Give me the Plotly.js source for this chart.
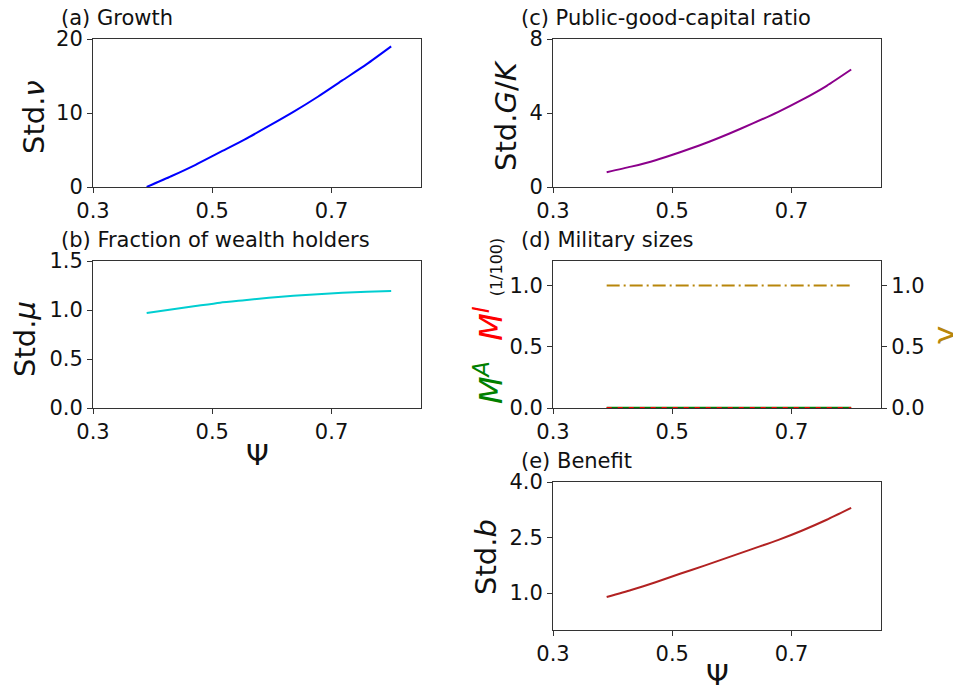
<!DOCTYPE html>
<html>
<head>
<meta charset="utf-8">
<script src="https://cdn.plot.ly/plotly-3.0.1.min.js"></script>
<style>html,body{margin:0;padding:0;background:#fff;} #chart{width:953px;height:693px;}</style>
</head>
<body>
<div id="chart"></div>
<script>
// Data
const psi = [0.39, 0.431, 0.472, 0.513, 0.554, 0.595, 0.636, 0.677, 0.718, 0.759, 0.80];
const growth = [0.0, 1.45, 3.0, 4.7, 6.4, 8.25, 10.15, 12.2, 14.4, 16.6, 19.0];
const wealthFrac = [0.97, 1.005, 1.04, 1.075, 1.10, 1.125, 1.145, 1.16, 1.175, 1.185, 1.195];
const gkRatio = [0.8, 1.1, 1.45, 1.88, 2.35, 2.88, 3.45, 4.05, 4.72, 5.47, 6.35];
const militaryA = [0, 0, 0, 0, 0, 0, 0, 0, 0, 0, 0];
const militaryI = [0, 0, 0, 0, 0, 0, 0, 0, 0, 0, 0];
const gammaVals = [1, 1, 1, 1, 1, 1, 1, 1, 1, 1, 1];
const benefit = [0.89, 1.08, 1.29, 1.52, 1.74, 1.97, 2.2, 2.43, 2.69, 2.98, 3.3];
const xTicks = [0.3, 0.5, 0.7];
const xTickText = ["0.3", "0.5", "0.7"];

const W = 953, H = 693;
const px = v => v / W;
const py = v => 1 - v / H;

const FONT = "DejaVu Sans, sans-serif";
const tickFont = {family: FONT, size: 21, color: "#111"};

function xa(domL, domR, anchor) {
  return {
    domain: [px(domL), px(domR)], anchor: anchor, range: [0.3, 0.85],
    tickvals: xTicks, ticktext: xTickText, ticks: "outside", ticklen: 5, tickwidth: 1,
    tickcolor: "#333", showline: true, linecolor: "#333", linewidth: 1, mirror: true,
    showgrid: false, zeroline: false, tickfont: tickFont, fixedrange: true
  };
}
function ya(top, bottom, anchor, range, vals, fmt) {
  return {
    domain: [py(bottom), py(top)], anchor: anchor, range: range,
    tickvals: vals, ticktext: vals.map(v => fmt(v)), ticks: "outside", ticklen: 5, tickwidth: 1,
    tickcolor: "#333", showline: true, linecolor: "#333", linewidth: 1, mirror: true,
    showgrid: false, zeroline: false, tickfont: tickFont, fixedrange: true
  };
}

const traces = [
  {x: psi, y: growth, xaxis: "x", yaxis: "y", mode: "lines", line: {color: "#0000ff", width: 2, shape: "spline", smoothing: 0.6}},
  {x: psi, y: wealthFrac, xaxis: "x2", yaxis: "y2", mode: "lines", line: {color: "#00ced1", width: 2, shape: "spline", smoothing: 0.6}},
  {x: psi, y: gkRatio, xaxis: "x3", yaxis: "y3", mode: "lines", line: {color: "#8b008b", width: 2, shape: "spline", smoothing: 0.6}},
  {x: psi, y: militaryA, xaxis: "x4", yaxis: "y4", mode: "lines", line: {color: "#008000", width: 2.5}},
  {x: psi, y: militaryI, xaxis: "x4", yaxis: "y4", mode: "lines", line: {color: "#ff0000", width: 2, dash: "5px,6px"}},
  {x: psi, y: gammaVals, xaxis: "x4", yaxis: "y5", mode: "lines", line: {color: "#b8860b", width: 2, dash: "13px,4px,2px,4px"}},
  {x: psi, y: benefit, xaxis: "x6", yaxis: "y6", mode: "lines", line: {color: "#b22222", width: 2, shape: "spline", smoothing: 0.6}}
];

const yr5 = ya(261, 408, "x4", [0, 1.2], [0, 0.5, 1.0], v => v.toFixed(1));
yr5.overlaying = "y4"; yr5.side = "right"; yr5.mirror = false;

const layout = {
  width: W, height: H, margin: {l: 0, r: 0, t: 0, b: 0},
  paper_bgcolor: "#fff", plot_bgcolor: "#fff", showlegend: false,
  font: {family: FONT, color: "#111"},
  xaxis: xa(93, 421, "y"),
  yaxis: ya(39, 187, "x", [0, 20], [0, 10, 20], v => String(v)),
  xaxis2: xa(93, 421, "y2"),
  yaxis2: ya(261, 408, "x2", [0, 1.5], [0, 0.5, 1.0, 1.5], v => v.toFixed(1)),
  xaxis3: xa(553, 881, "y3"),
  yaxis3: ya(39, 187, "x3", [0, 8], [0, 4, 8], v => String(v)),
  xaxis4: xa(553, 881, "y4"),
  yaxis4: ya(261, 408, "x4", [0, 1.2], [0, 0.5, 1.0], v => v.toFixed(1)),
  yaxis5: yr5,
  xaxis6: xa(553, 881, "y6"),
  yaxis6: ya(482, 630, "x6", [0, 4], [1.0, 2.5, 4.0], v => v.toFixed(1)),
  annotations: [
    {text: "(a) Growth", x: px(59), y: py(18), xanchor: "left", yanchor: "middle"},
    {text: "(b) Fraction of wealth holders", x: px(59), y: py(240), xanchor: "left", yanchor: "middle"},
    {text: "(c) Public-good-capital ratio", x: px(519), y: py(18), xanchor: "left", yanchor: "middle"},
    {text: "(d) Military sizes", x: px(519), y: py(240), xanchor: "left", yanchor: "middle"},
    {text: "(e) Benefit", x: px(519), y: py(461), xanchor: "left", yanchor: "middle"}
  ].map(a => Object.assign({xref: "paper", yref: "paper", showarrow: false, font: {family: FONT, size: 21, color: "#111"}}, a)).concat([
    {text: "Std.<i>ν</i>", x: px(34), y: py(117), textangle: -90},
    {text: "Std.<i>μ</i>", x: px(25), y: py(339), textangle: -90},
    {text: "Std.<i>G</i>/<i>K</i>", x: px(506), y: py(116), textangle: -90},
    {text: "Std.<i>b</i>", x: px(486), y: py(557), textangle: -90},
    {text: "Ψ", x: px(257), y: py(455)},
    {text: "Ψ", x: px(717), y: py(675)},
    {text: "<span style='color:#008000'><i>M</i><sup><i>A</i></sup></span>&nbsp;&nbsp;<span style='color:#ff0000'><i>M</i><sup><i>I</i></sup></span>&nbsp;<span style='font-size:16px;color:#111'>(1/100)</span>",
     x: px(489), y: py(321), textangle: -90, font: {family: FONT, size: 32, color: "#111"}},
    {text: "<span style='color:#b8860b'>γ</span>", x: px(944), y: py(335), textangle: -90, font: {family: FONT, size: 31, color: "#b8860b"}}
  ].map(a => Object.assign({xref: "paper", yref: "paper", showarrow: false, xanchor: "center", yanchor: "middle", font: {family: FONT, size: 29, color: "#111"}}, a)))
};

Plotly.newPlot("chart", traces, layout, {staticPlot: true, displayModeBar: false});
</script>
</body>
</html>
